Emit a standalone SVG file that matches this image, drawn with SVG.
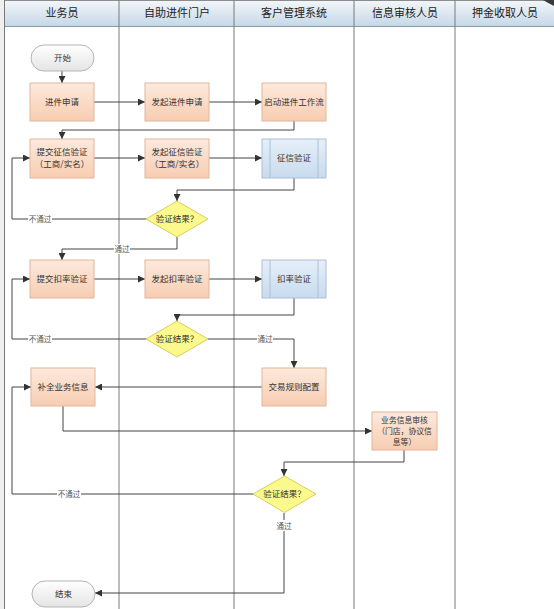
<svg xmlns="http://www.w3.org/2000/svg" width="554" height="609" viewBox="0 0 554 609">
<defs>
<linearGradient id="gHead" x1="0" y1="0" x2="0" y2="1"><stop offset="0" stop-color="#f3f7fa"/><stop offset="1" stop-color="#c6d8e7"/></linearGradient>
<linearGradient id="gProc" x1="0" y1="0" x2="0" y2="1"><stop offset="0" stop-color="#fde9dc"/><stop offset="1" stop-color="#f7cdb2"/></linearGradient>
<linearGradient id="gSub" x1="0" y1="0" x2="0" y2="1"><stop offset="0" stop-color="#e6eff8"/><stop offset="1" stop-color="#c8dbee"/></linearGradient>
<linearGradient id="gPill" x1="0" y1="0" x2="0" y2="1"><stop offset="0" stop-color="#ffffff"/><stop offset="1" stop-color="#e4e4e4"/></linearGradient>
<marker id="arr" viewBox="0 0 8 8" refX="8" refY="4" markerWidth="7" markerHeight="7" markerUnits="userSpaceOnUse" orient="auto"><path d="M0,0 L8,4 L0,8 z" fill="#333"/></marker>
</defs>
<style>
.hd{font-family:"Noto Sans CJK SC","Noto Sans",sans-serif;font-size:11px;fill:#222;text-anchor:middle}
.t{font-family:"Noto Sans CJK SC","Noto Sans",sans-serif;font-size:8.5px;fill:#333;text-anchor:middle}
.ts{font-family:"Noto Sans CJK SC","Noto Sans",sans-serif;font-size:7.8px;fill:#333;text-anchor:middle}
.lb{font-family:"Noto Sans CJK SC","Noto Sans",sans-serif;font-size:7.5px;fill:#555;text-anchor:middle}
.lane{stroke:#7a7a7a;stroke-width:1;fill:none}
.proc{fill:url(#gProc);stroke:#e0b79c;stroke-width:1}
.sub{fill:url(#gSub);stroke:#a9c0d8;stroke-width:1}
.dia{fill:#fcf98c;stroke:#d6cf5e;stroke-width:1}
.pill{fill:url(#gPill);stroke:#b5b5b5;stroke-width:1}
.c{fill:none;stroke:#444;stroke-width:1;marker-end:url(#arr)}
.lbg{fill:#ffffff}
</style>
<rect x="0" y="0" width="554" height="609" fill="#ffffff"/>
<rect x="0" y="0" width="4" height="609" fill="#efefef"/>
<g id="header">
<rect x="4" y="0" width="550" height="26" fill="url(#gHead)"/>
<line x1="4" y1="0.5" x2="554" y2="0.5" stroke="#8c8c8c"/>
<line x1="4" y1="26.5" x2="554" y2="26.5" stroke="#8a9aa8"/>
<path d="M543,0 Q548,3 554,6 L554,0 z" fill="#3a3a3a"/>
<text class="hd" x="62" y="17">业务员</text>
<text class="hd" x="177" y="17">自助进件门户</text>
<text class="hd" x="294" y="17">客户管理系统</text>
<text class="hd" x="405" y="17">信息审核人员</text>
<text class="hd" x="505" y="17">押金收取人员</text>
</g>
<g id="lanes">
<line class="lane" x1="4.5" y1="0" x2="4.5" y2="609"/>
<line class="lane" x1="119" y1="0" x2="119" y2="609"/>
<line class="lane" x1="234" y1="0" x2="234" y2="609"/>
<line class="lane" x1="354" y1="0" x2="354" y2="609"/>
<line class="lane" x1="455" y1="0" x2="455" y2="609"/>
</g>
<g id="connectors">
<path class="c" d="M62,71 V83"/>
<path class="c" d="M94,102 H145"/>
<path class="c" d="M209,102 H262"/>
<path class="c" d="M294,121 V130 H62 V139"/>
<path class="c" d="M94,158 H145"/>
<path class="c" d="M209,158 H262"/>
<path class="c" d="M294,178 V190 H177 V201"/>
<path class="c" d="M146,219 H12 V158 H30"/>
<path class="c" d="M177,237 V249 H62 V260"/>
<path class="c" d="M94,279 H145"/>
<path class="c" d="M209,279 H262"/>
<path class="c" d="M294,298 V315 H177 V321"/>
<path class="c" d="M146,339 H12 V279 H30"/>
<path class="c" d="M208,339 H294 V368"/>
<path class="c" d="M262,387 H95"/>
<path class="c" d="M63,406 V431 H372"/>
<path class="c" d="M404,450 V462 H284 V476"/>
<path class="c" d="M253,494 H12 V387 H31"/>
<path class="c" d="M284,513 V593 H95"/>
<rect class="lbg" x="28" y="214" width="24" height="10"/>
<text class="lb" x="40" y="222">不通过</text>
<rect class="lbg" x="114" y="244" width="16" height="10"/>
<text class="lb" x="122" y="252">通过</text>
<rect class="lbg" x="28" y="334" width="24" height="10"/>
<text class="lb" x="40" y="342">不通过</text>
<rect class="lbg" x="257" y="334" width="16" height="10"/>
<text class="lb" x="265" y="342">通过</text>
<rect class="lbg" x="57" y="489" width="24" height="10"/>
<text class="lb" x="69" y="497">不通过</text>
<rect class="lbg" x="274" y="520" width="20" height="11"/>
<text class="lb" x="284" y="529">通过</text>
</g>
<g id="start"><rect class="pill" x="31" y="45" width="63" height="26" rx="13"/><text class="t" x="62.5" y="61">开始</text></g>
<g id="apply"><rect class="proc" x="30" y="83" width="64" height="38"/><text class="t" x="62" y="105">进件申请</text></g>
<g id="initApply"><rect class="proc" x="145" y="83" width="64" height="38"/><text class="t" x="177" y="105">发起进件申请</text></g>
<g id="startFlow"><rect class="proc" x="262" y="83" width="64" height="38"/><text class="t" x="294" y="105">启动进件工作流</text></g>
<g id="submitCredit"><rect class="proc" x="30" y="139" width="64" height="39"/><text class="t" x="62" y="155">提交征信验证</text><text class="t" x="62" y="167">（工商/实名）</text></g>
<g id="initCredit"><rect class="proc" x="145" y="139" width="64" height="39"/><text class="t" x="177" y="155">发起征信验证</text><text class="t" x="177" y="167">（工商/实名）</text></g>
<g id="credit"><rect class="sub" x="262" y="139" width="64" height="39"/><line x1="270" y1="139" x2="270" y2="178" stroke="#a9c0d8"/><line x1="318" y1="139" x2="318" y2="178" stroke="#a9c0d8"/><text class="t" x="294" y="161">征信验证</text></g>
<g id="decision1"><path class="dia" d="M177,201 L208,219 L177,237 L146,219 z"/><text class="t" x="177" y="222">验证结果？</text></g>
<g id="submitRate"><rect class="proc" x="30" y="260" width="64" height="38"/><text class="t" x="62" y="282">提交扣率验证</text></g>
<g id="initRate"><rect class="proc" x="145" y="260" width="64" height="38"/><text class="t" x="177" y="282">发起扣率验证</text></g>
<g id="rate"><rect class="sub" x="262" y="260" width="64" height="38"/><line x1="270" y1="260" x2="270" y2="298" stroke="#a9c0d8"/><line x1="318" y1="260" x2="318" y2="298" stroke="#a9c0d8"/><text class="t" x="294" y="282">扣率验证</text></g>
<g id="decision2"><path class="dia" d="M177,321 L208,339 L177,357 L146,339 z"/><text class="t" x="177" y="342">验证结果？</text></g>
<g id="ruleConfig"><rect class="proc" x="262" y="368" width="64" height="38"/><text class="t" x="294" y="390">交易规则配置</text></g>
<g id="complete"><rect class="proc" x="31" y="368" width="64" height="38"/><text class="t" x="63" y="390">补全业务信息</text></g>
<g id="review"><rect class="proc" x="372" y="412" width="65" height="38"/><text class="ts" x="404.5" y="422.5">业务信息审核</text><text class="ts" x="404.5" y="433.5">（门店，协议信</text><text class="ts" x="404.5" y="444.5">息等）</text></g>
<g id="decision3"><path class="dia" d="M284.5,476 L316,494 L284.5,512.5 L253,494 z"/><text class="t" x="284.5" y="497">验证结果？</text></g>
<g id="end"><rect class="pill" x="32" y="581" width="63" height="26" rx="13"/><text class="t" x="63.5" y="597">结束</text></g>
</svg>
